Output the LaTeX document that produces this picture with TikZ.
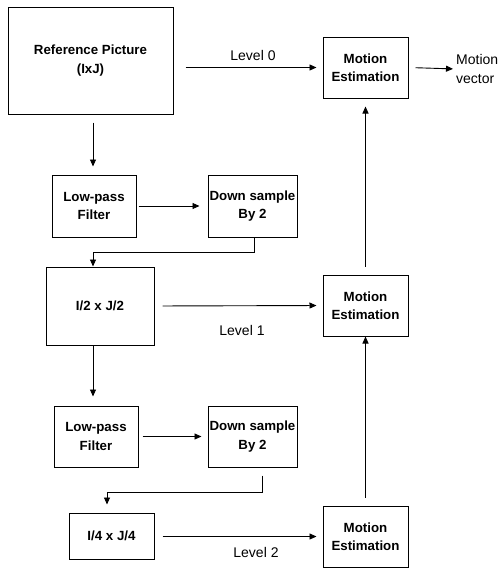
\documentclass[tikz,border=0pt]{standalone}
\usepackage{fontspec}
\setmainfont{Liberation Sans}
\usetikzlibrary{arrows.meta,calc}
\begin{document}
\begin{tikzpicture}[x=1pt,y=-1pt,
  box/.style={draw, line width=1pt, inner sep=0pt, align=center,
    font=\fontsize{13.3}{18.5}\selectfont\bfseries},
  arr/.style={line width=0.9pt, -{Triangle[length=7pt,width=6pt]}},
  lbl/.style={font=\fontsize{14}{18.5}\selectfont, inner sep=0pt}]
\useasboundingbox (0,0) rectangle (502,570);
% boxes
\node[box, minimum width=165pt, minimum height=107pt] (ref) at (90.5,60.5) {Reference Picture\\(IxJ)};
\node[box, minimum width=85pt, minimum height=61pt] (me0) at (365.5,67.5) {Motion\\Estimation};
\node[box, minimum width=84pt, minimum height=62pt] (lpf1) at (94,206) {Low-pass\\Filter};
\node[box, minimum width=89pt, minimum height=62pt] (ds1) at (252.5,206) {Down sample\\By 2};
\node[box, minimum width=108pt, minimum height=78pt] (half) at (100,306) {I/2 x J/2};
\node[box, minimum width=85pt, minimum height=61pt] (me1) at (365.5,305.5) {Motion\\Estimation};
\node[box, minimum width=84pt, minimum height=61pt] (lpf2) at (96,436.5) {Low-pass\\Filter};
\node[box, minimum width=89pt, minimum height=61pt] (ds2) at (252.5,436.5) {Down sample\\By 2};
\node[box, minimum width=85pt, minimum height=46pt] (quart) at (111.5,536) {I/4 x J/4};
\node[box, minimum width=85pt, minimum height=61pt] (me2) at (365.5,536.5) {Motion\\Estimation};
% labels
\node[lbl] (l0) at (253,55) {Level 0};
\node[lbl] (l1) at (242,330) {Level 1};
\node[lbl] (l2) at (256,552) {Level 2};
\node[lbl, align=left, anchor=west] (mv) at (456,69) {Motion\\vector};
% connectors
\draw[arr, shorten <=12pt, shorten >=6pt] (ref.east |- me0.west) -- (me0.west);
\draw[arr, shorten <=7pt, shorten >=3pt] (me0.east) -- (mv.west);
\draw[arr, shorten <=8pt, shorten >=8pt] ($(ref.south)+(2.5,0)$) -- ($(lpf1.north)+(-1,0)$);
\draw[arr, shorten <=2pt, shorten >=8pt] (lpf1.east) -- (ds1.west);
\draw[arr] ($(ds1.south)+(1.5,0)$) -- ++(0,15) -| ($(half.north)+(-7,0)$);
\draw[arr, shorten <=8pt, shorten >=6pt] ($(half.east)$) -- (me1.west);
\draw[arr, shorten >=9pt] ($(half.south)+(-7,0)$) -- ($(lpf2.north)+(-3,0)$);
\draw[arr, shorten <=4pt, shorten >=6pt] (lpf2.east) -- (ds2.west);
\draw[arr, shorten >=8pt] ($(ds2.south)+(9.5,8)$) -- ++(0,17) -| ($(quart.north)+(-4.5,0)$);
\draw[arr, shorten <=8pt, shorten >=6pt] (quart.east |- me2.west) -- (me2.west);
\draw[arr, shorten <=8pt, shorten >=8pt] (me1.north) -- (me0.south);
\draw[arr, shorten <=8pt] (me2.north) -- (me1.south);
\end{tikzpicture}
\end{document}
